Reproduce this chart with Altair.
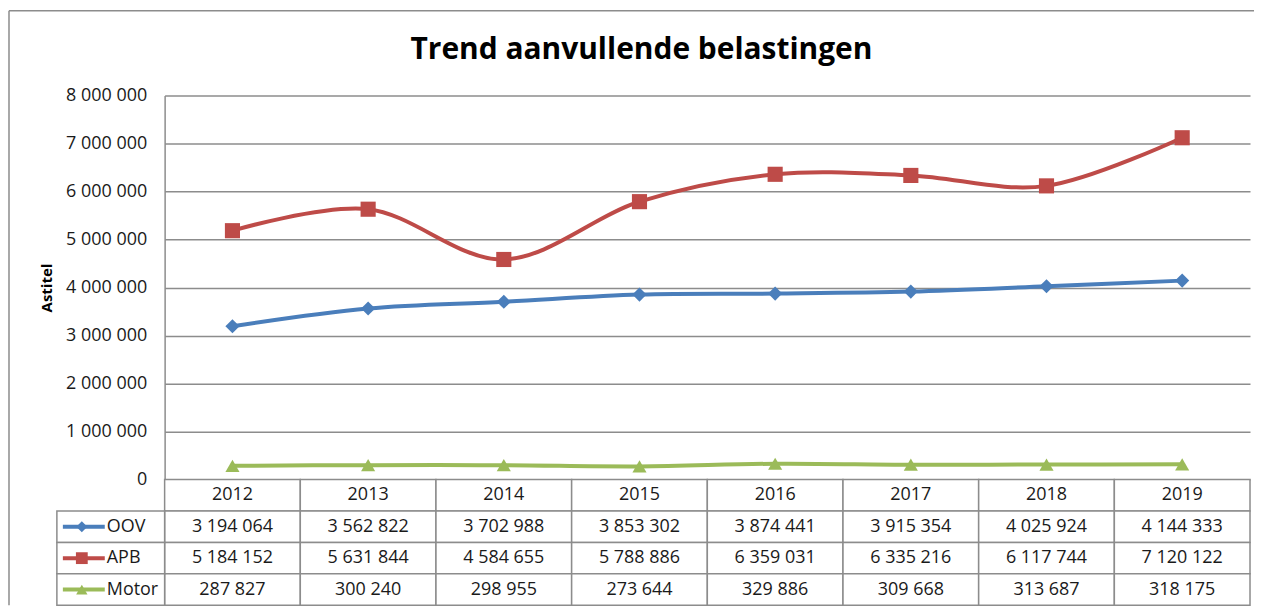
import altair as alt
import pandas as pd

# ---------------- data ----------------
years = ["2012", "2013", "2014", "2015", "2016", "2017", "2018", "2019"]
series = ["OOV", "APB", "Motor"]
oov = [3194064, 3562822, 3702988, 3853302, 3874441, 3915354, 4025924, 4144333]
apb = [5184152, 5631844, 4584655, 5788886, 6359031, 6335216, 6117744, 7120122]
motor = [287827, 300240, 298955, 273644, 329886, 309668, 313687, 318175]
y_ticks = [0, 1000000, 2000000, 3000000, 4000000, 5000000, 6000000, 7000000, 8000000]
title_text = "Trend aanvullende belastingen"
y_title = "Astitel"
header_key = "Jaar"

# ---------------- style ----------------
colors = ["#4A7EBB", "#BE4B48", "#9BBB59"]
shapes = ["diamond", "square", "triangle-up"]
plot_sizes = [200, 230, 200]
legend_sizes = [120, 140, 130]
GRID = "#8c8c8c"
TXT = "#1a1a1a"
FONT = "Open Sans"
W, H = 1088, 385
TH = 126

values = {"OOV": oov, "APB": apb, "Motor": motor}
rows = []
for s in series:
    for yr, v in zip(years, values[s]):
        rows.append({"Jaar": yr, "Reeks": s, "Waarde": v,
                     "Tekst": f"{v:,}".replace(",", " ")})
df = pd.DataFrame(rows)

color_scale = alt.Scale(domain=series, range=colors)
shape_scale = alt.Scale(domain=series, range=shapes)

# ---------------- top: line chart ----------------
x_top = alt.X("Jaar:O", scale=alt.Scale(type="point", domain=years, padding=0.5), axis=None)
y_top = alt.Y(
    "Waarde:Q",
    scale=alt.Scale(domain=[0, 8000000], nice=False, zero=True),
    axis=alt.Axis(
        values=y_ticks, title=y_title,
        labelExpr="replace(format(datum.value, ','), regexp(',', 'g'), ' ')",
        labelFont=FONT, labelFontSize=18, labelColor=TXT, labelPadding=18,
        ticks=False, domain=True, domainColor=GRID, domainWidth=1.5,
        grid=True, gridColor=GRID, gridWidth=1.5, gridOpacity=1,
        titleFont=FONT, titleFontSize=15, titleFontWeight="bold", titleColor="#000",
        titleX=-118, titleY=H / 2, titleAngle=270, titleAlign="center",
        titleBaseline="middle",
    ),
)

base = alt.Chart(df)
lines = base.mark_line(interpolate="cardinal", strokeWidth=4).encode(
    x=x_top, y=y_top,
    color=alt.Color("Reeks:N", scale=color_scale, legend=None),
)
point_layers = []
for s, sz in zip(series, plot_sizes):
    point_layers.append(
        base.transform_filter(alt.datum.Reeks == s)
        .mark_point(filled=True, opacity=1, size=sz)
        .encode(
            x=x_top, y=alt.Y("Waarde:Q"),
            color=alt.Color("Reeks:N", scale=color_scale, legend=None),
            shape=alt.Shape("Reeks:N", scale=shape_scale, legend=None),
        )
    )

one = pd.DataFrame({"t": [title_text]})
frame_top = alt.Chart(one).mark_rule(color=GRID, strokeWidth=1.5).encode(
    x=alt.value(-156), x2=alt.value(1092), y=alt.value(-85))
frame_left = alt.Chart(one).mark_rule(color=GRID, strokeWidth=1.5).encode(
    x=alt.value(-156), y=alt.value(-85), y2=alt.value(511))
title = alt.Chart(one).mark_text(
    font=FONT, fontSize=30, fontWeight="bold", color="#000",
    align="center", baseline="middle").encode(
    text="t:N", x=alt.value(478), y=alt.value(-46))

top = alt.layer(frame_top, frame_left, title, lines, *point_layers).properties(width=W, height=H)

# ---------------- bottom: data table ----------------
table_rows = [header_key] + series
cells = pd.DataFrame([{"Jaar": yr, "Rij": r} for r in table_rows for yr in years])
hdr = pd.DataFrame({"Jaar": years, "Rij": header_key, "Tekst": years})
vals = df.rename(columns={"Reeks": "Rij"})[["Jaar", "Rij", "Tekst"]]
text_df = pd.concat([hdr, vals], ignore_index=True)
leg_df = pd.DataFrame({"Rij": series})

x_bot = alt.X("Jaar:N", scale=alt.Scale(type="band", domain=years, paddingInner=0, paddingOuter=0), axis=None)
y_scale_bot = alt.Scale(type="band", domain=table_rows, paddingInner=0, paddingOuter=0)
y_bot = alt.Y("Rij:N", scale=y_scale_bot, axis=None)
y_bot_c = alt.Y("Rij:N", scale=y_scale_bot, axis=None, bandPosition=0.5)

cell_rects = alt.Chart(cells).mark_rect(fill="white", stroke=GRID, strokeWidth=1.5).encode(
    x=x_bot, y=y_bot)
cell_text = alt.Chart(text_df).mark_text(
    font=FONT, fontSize=18, color=TXT, align="center", baseline="middle").encode(
    x=x_bot, y=y_bot_c, text="Tekst:N")

leg_rects = alt.Chart(leg_df).mark_rect(fill="white", stroke=GRID, strokeWidth=1.5).encode(
    x=alt.value(-108), x2=alt.value(0), y=y_bot)
leg_lines = alt.Chart(leg_df).mark_rule(strokeWidth=4).encode(
    x=alt.value(-102), x2=alt.value(-60), y=y_bot_c,
    color=alt.Color("Rij:N", scale=color_scale, legend=None))
leg_pts = []
for s, sz in zip(series, legend_sizes):
    leg_pts.append(
        alt.Chart(leg_df).transform_filter(alt.datum.Rij == s)
        .mark_point(filled=True, opacity=1, size=sz)
        .encode(
            x=alt.value(-83), y=y_bot_c,
            color=alt.Color("Rij:N", scale=color_scale, legend=None),
            shape=alt.Shape("Rij:N", scale=shape_scale, legend=None),
        )
    )
leg_text = alt.Chart(leg_df).mark_text(
    font=FONT, fontSize=18, color=TXT, align="left", baseline="middle").encode(
    x=alt.value(-58), y=y_bot_c, text="Rij:N")

bottom = alt.layer(cell_rects, cell_text, leg_rects, leg_lines, *leg_pts, leg_text).properties(
    width=W, height=TH)

chart = (
    alt.vconcat(top, bottom, spacing=0, bounds="flush")
    .resolve_scale(color="independent", shape="independent")
    .properties(padding={"left": 0, "top": 1, "right": 0, "bottom": 0}, background="white")
    .configure_view(stroke=None)
)

chart.save("out.html", embed_options={"renderer": "svg", "actions": False})
